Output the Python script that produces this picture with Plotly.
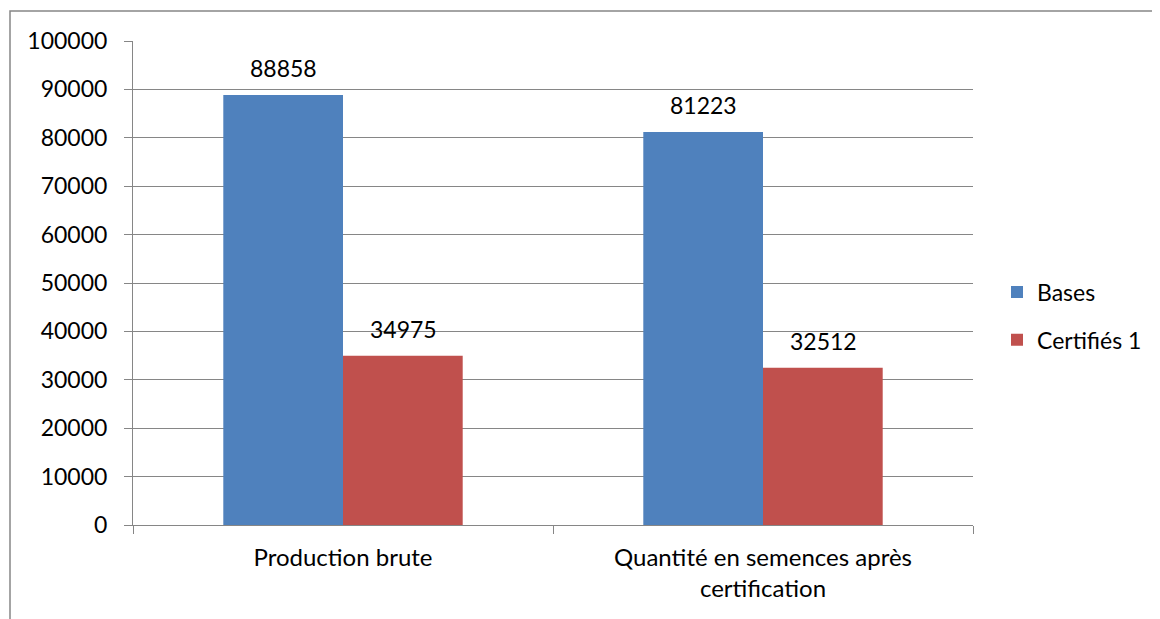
import plotly.graph_objects as go

categories = ["Production brute", "Quantité en semences après<br>certification"]
series_names = ["Bases", "Certifiés 1"]
bases = [88858, 81223]
certifies = [34975, 32512]
colors = ["#4F81BD", "#C0504D"]

W, H = 1160, 619
OFF = 8  # page body margin
L, T = 133 - OFF, 41 - OFF
pw, ph = 840, 484
R, B = W - L - pw, H - T - ph


def px(x):
    return (x - OFF - L) / pw


def py(y):
    return (OFF + T + ph - y) / ph


fig = go.Figure()
for name, vals, col in zip(series_names, [bases, certifies], colors):
    fig.add_trace(go.Bar(
        x=categories, y=vals, name=name, marker_color=col, marker_line_width=0,
        cliponaxis=False, legendgroup=name, offsetgroup=name,
    ))

# data labels as annotations positioned from the data values
offsets = [-0.5, 0.5]
bar_w = 120 / 420
for k, vals in enumerate([bases, certifies]):
    for i, v in enumerate(vals):
        fig.add_annotation(x=i + offsets[k] * bar_w, y=v, text=str(v), showarrow=False,
                           xref="x", yref="y", yanchor="middle", yshift=27,
                           font=dict(size=23, family="Lato", color="#000000"))

fig.update_layout(
    width=W, height=H,
    margin=dict(l=L, r=R, t=T, b=B, autoexpand=False),
    barmode="group", bargap=0.43, bargroupgap=0,
    plot_bgcolor="white", paper_bgcolor="white",
    font=dict(family="Lato", size=23, color="#000000"),
    legend=dict(x=px(997), y=py(316), xanchor="left", yanchor="middle",
                font=dict(size=23), tracegroupgap=15, itemwidth=30),
    showlegend=True,
)
fig.update_yaxes(range=[0, 100000], dtick=10000, tickformat="d", showgrid=True,
                 gridcolor="#868686", gridwidth=1, automargin=False,
                 showline=True, linecolor="#868686", linewidth=1, ticks="outside", ticklen=8,
                 tickcolor="#868686", zeroline=False, tickfont=dict(size=23), ticklabelstandoff=12)
fig.update_xaxes(showline=True, linecolor="#868686", linewidth=1, ticks="outside", ticklen=8,
                 tickcolor="#868686", tickson="boundaries", tickfont=dict(size=24),
                 ticklabelstandoff=11, automargin=False)

fig.add_shape(type="rect", xref="paper", yref="paper",
              x0=px(10), x1=px(1180), y0=py(640), y1=py(11),
              line=dict(color="#868686", width=1.5), fillcolor="rgba(0,0,0,0)", layer="below")

fig.write_html("out.html")
